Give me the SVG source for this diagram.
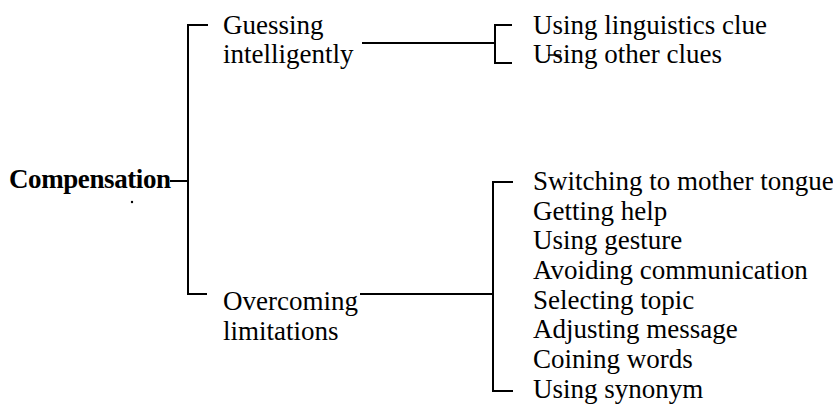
<svg xmlns="http://www.w3.org/2000/svg" width="833" height="409" viewBox="0 0 833 409">
<rect width="833" height="409" fill="#fff"/>
<g id="root"><text x="9" y="188" font-family="Times New Roman, Liberation Serif, serif" font-size="27" font-weight="bold" textLength="162">Compensation</text></g>
<g id="guessing" font-family="Times New Roman, Liberation Serif, serif" font-size="27"><text x="223" y="34" font-family="Times New Roman, Liberation Serif, serif" font-size="27">Guessing</text><text x="223" y="63" font-family="Times New Roman, Liberation Serif, serif" font-size="27">intelligently</text></g>
<g id="overcoming"><text x="223" y="310" font-family="Times New Roman, Liberation Serif, serif" font-size="27">Overcoming</text><text x="223" y="340" font-family="Times New Roman, Liberation Serif, serif" font-size="27">limitations</text></g>
<g id="guess-children">
<text x="533" y="34" font-family="Times New Roman, Liberation Serif, serif" font-size="27">Using linguistics clue</text>
<text x="533" y="63" font-family="Times New Roman, Liberation Serif, serif" font-size="27">Using other clues</text>
</g>
<g id="over-children">
<text x="533" y="190" font-family="Times New Roman, Liberation Serif, serif" font-size="27">Switching to mother tongue</text>
<text x="533" y="220" font-family="Times New Roman, Liberation Serif, serif" font-size="27">Getting help</text>
<text x="533" y="249" font-family="Times New Roman, Liberation Serif, serif" font-size="27">Using gesture</text>
<text x="533" y="279" font-family="Times New Roman, Liberation Serif, serif" font-size="27">Avoiding communication</text>
<text x="533" y="309" font-family="Times New Roman, Liberation Serif, serif" font-size="27">Selecting topic</text>
<text x="533" y="338" font-family="Times New Roman, Liberation Serif, serif" font-size="27">Adjusting message</text>
<text x="533" y="368" font-family="Times New Roman, Liberation Serif, serif" font-size="27">Coining words</text>
<text x="533" y="398" font-family="Times New Roman, Liberation Serif, serif" font-size="27">Using synonym</text>
</g>
<g id="connectors" fill="none" stroke="#000" stroke-width="2">
<path d="M170 181H188"/>
<path d="M208 25H188V294H207"/>
<path d="M362 43H495"/>
<path d="M512 25H495V63H512"/>
<path d="M360 294H493"/>
<path d="M513 182H493V391H513"/>
<path d="M548 55H561" stroke-width="1.5"/>
<circle cx="132" cy="202" r="1.2" fill="#000" stroke="none"/>
</g>
</svg>
